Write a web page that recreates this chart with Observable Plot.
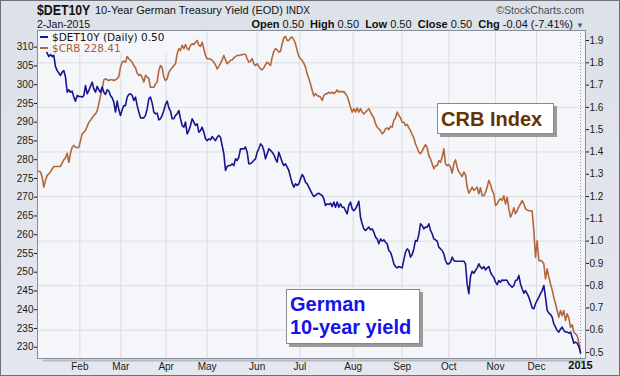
<!DOCTYPE html>
<html>
<head>
<meta charset="utf-8">
<script src="https://cdn.jsdelivr.net/npm/d3@7"></script>
<script src="https://cdn.jsdelivr.net/npm/@observablehq/plot@0.6"></script>
<style>
  body { margin: 0; background: #fff; }
  #wrap { position: relative; width: 620px; height: 376px; overflow: hidden;
          background: linear-gradient(#dde1e8, #e4e7ed);
          font-family: "Liberation Sans", Arial, sans-serif; color: #111; }
  #border { position: absolute; left: 0; top: 0; width: 620px; height: 376px; box-sizing: border-box;
            border: 1px solid #6b707a; pointer-events: none; }
  #chart { position: absolute; left: 0; top: 30px; }
  .t { position: absolute; white-space: nowrap; line-height: 1; }
  #sym { left: 37px; top: 2px; font-weight: bold; font-size: 15px; transform: scaleX(0.82); transform-origin: left top; }
  #name { left: 95px; top: 5px; font-size: 11px; }
  #exch { left: 286px; top: 6px; font-size: 10px; }
  #copy { right: 36px; top: 5px; font-size: 10.5px; color: #4a4d55; }
  #date { left: 37px; top: 19px; font-size: 10.5px; }
  #quote { right: 36px; top: 19px; font-size: 11px; }
  #quote b { font-weight: bold; }
  #quote .tri { color: #3a5da8; font-size: 8px; }
  #legend { position: absolute; left: 38px; top: 31px; width: 134px; height: 21px; background: #f5f6f9;
            font-family: "DejaVu Sans", Verdana, sans-serif; font-size: 10.5px; }
  #legend .row { position: absolute; left: 2px; white-space: nowrap; line-height: 1; }
  #legend .sw { display: inline-block; width: 8px; height: 2px; vertical-align: middle; margin-right: 4px; position: relative; top: -1px; }
  .note { position: absolute; background: #fff; border: 1px solid #8a8a8a; box-shadow: 3px 3px 0 #9a9a9a;
          font-family: "Liberation Sans", Arial, sans-serif; font-weight: bold; font-size: 20px; line-height: 23px; box-sizing: border-box; }
  #noteDE { left: 286px; top: 289px; width: 134px; height: 55px; color: #1414e8; padding: 3px 0 0 3px; }
  #noteCRB { left: 437px; top: 103px; width: 117px; height: 31px; color: #663300; padding: 4px 0 0 3px; }
</style>
</head>
<body>
<div id="wrap">
  <div id="chart"></div>
  <div class="t" id="sym">$DET10Y</div>
  <div class="t" id="name">10-Year German Treasury Yield (EOD)</div>
  <div class="t" id="exch">INDX</div>
  <div class="t" id="copy">©StockCharts.com</div>
  <div class="t" id="date">2-Jan-2015</div>
  <div class="t" id="quote"><b>Open</b> 0.50 &nbsp;<b>High</b> 0.50 &nbsp;<b>Low</b> 0.50 &nbsp;<b>Close</b> 0.50 &nbsp;<b>Chg</b> -0.04 (-7.41%) <span class="tri">▼</span></div>
  <div id="legend">
    <div class="row" style="top:1px;color:#111"><span class="sw" style="background:#16168e"></span>$DET10Y (Daily) 0.50</div>
    <div class="row" style="top:11.5px;color:#a85d35"><span class="sw" style="background:#b3673d"></span>$CRB 228.41</div>
  </div>
  <div class="note" id="noteDE">German<br>10-year yield</div>
  <div class="note" id="noteCRB">CRB Index</div>
  <div id="border"></div>
</div>
<script>
// ---- Data (uniformly spaced samples through 2014, first sample index below) ----
const firstSample = 2;

// German 10-year Treasury yield ($DET10Y), percent
const det10y = [
  1.908,1.915,1.908,1.893,1.863,1.843,1.828,1.837,1.828,1.833,1.783,1.765,1.754,1.743,1.758,1.765,1.736,1.668,1.679,1.668,
  1.673,1.646,1.628,1.653,1.649,1.649,1.646,1.653,1.698,1.661,1.676,1.694,1.713,1.683,1.668,1.694,1.679,1.668,1.691,1.668,
  1.658,1.679,1.673,1.653,1.643,1.623,1.579,1.628,1.589,1.564,1.589,1.608,1.608,1.646,1.658,1.661,1.653,1.631,1.646,1.608,
  1.579,1.553,1.553,1.553,1.564,1.594,1.638,1.646,1.619,1.579,1.571,1.574,1.544,1.549,1.564,1.586,1.613,1.628,1.598,1.583,
  1.549,1.549,
  1.564,1.571,1.586,1.549,1.519,1.511,1.534,1.481,1.496,1.519,1.549,1.534,1.519,1.526,1.489,1.496,1.511,1.489,1.459,1.451,
  1.459,1.454,1.469,1.459,1.451,1.466,1.474,1.466,1.429,1.392,1.317,1.335,1.339,1.339,1.347,1.339,1.369,1.362,1.377,1.414,
  1.414,1.414,1.422,1.399,1.347,1.347,1.354,1.362,1.369,1.399,1.414,1.436,1.429,1.407,1.369,1.392,1.414,1.407,1.399,1.389,
  1.369,1.354,1.399,1.377,1.354,1.339,1.347,1.332,1.317,1.287,1.260,1.242,1.257,1.250,1.257,1.279,1.299,1.287,1.264,1.257,
  1.242,1.227,1.212,1.200,
  1.205,1.212,1.215,1.209,1.205,1.190,1.160,1.167,1.164,1.170,1.155,1.175,1.152,1.175,1.152,1.167,1.152,1.152,1.137,1.122,
  1.160,1.175,1.145,1.137,1.145,1.160,1.179,1.107,1.078,1.055,1.048,1.055,1.063,1.051,1.055,1.040,1.018,1.010,0.988,1.010,
  1.000,1.006,0.995,0.988,0.958,0.950,0.928,0.898,0.886,0.880,0.886,0.883,0.880,0.916,0.950,0.965,0.958,0.928,0.940,0.965,
  1.003,1.000,1.030,1.078,1.070,1.055,1.063,1.063,1.078,1.048,1.033,1.010,1.006,1.000,0.973,0.965,0.958,0.943,0.913,0.898,
  0.898,0.906,0.928,0.913,
  0.910,0.910,0.910,0.910,0.910,0.910,0.898,0.808,0.764,0.841,0.865,0.856,0.868,0.880,0.898,0.883,0.876,0.886,0.871,0.880,
  0.886,0.861,0.846,0.838,0.816,0.805,0.823,0.816,0.826,0.823,0.826,0.823,0.808,0.801,0.793,0.801,0.823,0.826,0.846,0.808,
  0.786,0.766,0.778,0.764,0.749,0.726,0.701,0.696,0.719,0.734,0.749,0.764,0.778,0.801,0.749,0.689,0.677,0.671,0.659,0.629,
  0.614,0.599,0.592,0.606,0.614,0.599,0.592,0.592,0.587,0.592,0.569,0.542,0.547,0.542,0.527,0.500
];

// Thomson Reuters/CoreCommodity CRB Index ($CRB)
const crb = [
  276.9,276.7,275.3,272.7,274.5,275.8,276.2,276.7,277.6,278.2,278.2,278.2,278.2,278.2,279.1,280.0,280.5,281.7,279.3,281.7,
  283.3,283.8,283.3,283.2,283.3,285.1,286.9,287.3,287.8,288.9,290.0,290.5,291.2,291.8,292.2,293.1,294.9,297.1,298.9,301.3,
  301.6,301.3,301.1,301.3,301.3,301.1,301.3,301.6,302.2,304.7,306.0,306.3,306.0,307.5,306.9,306.5,306.0,305.1,304.5,303.1,
  302.5,302.7,302.0,300.7,302.5,302.0,301.6,299.3,299.3,299.3,300.2,300.7,303.8,305.1,304.5,302.0,301.1,301.6,303.3,304.0,
  304.5,305.1,
  305.6,308.2,309.6,309.1,310.5,309.6,310.7,309.6,309.3,310.5,310.9,310.7,311.3,311.8,310.5,310.2,311.3,309.6,307.8,306.9,
  306.9,306.8,306.5,306.0,305.3,304.2,304.9,305.7,306.6,307.8,306.6,305.6,306.0,306.5,306.6,307.2,307.5,307.8,307.8,307.9,
  308.0,308.1,308.1,306.9,306.0,306.3,306.9,305.6,305.1,305.6,304.9,304.2,304.0,304.5,305.4,306.0,305.6,305.1,307.3,308.9,
  309.6,309.3,308.7,308.9,310.9,312.5,312.9,311.8,311.8,312.5,312.7,312.0,310.9,309.1,307.5,306.9,306.5,305.7,304.7,302.9,
  301.6,300.2,298.5,297.0,
  297.6,297.1,296.9,296.7,295.8,297.1,297.6,297.6,298.0,297.7,298.0,297.6,298.0,298.6,298.0,298.3,298.0,298.2,297.6,296.9,
  295.6,294.0,292.7,293.6,292.7,293.8,292.7,293.6,292.7,292.2,292.7,293.1,293.6,292.7,291.8,291.2,289.6,288.7,288.2,287.8,
  286.9,287.3,288.2,288.5,288.0,288.9,288.7,290.5,291.2,292.7,291.8,291.2,290.0,290.0,289.1,289.4,288.5,287.8,286.7,285.8,
  284.2,283.2,282.0,281.6,282.3,283.3,284.0,283.2,281.1,280.2,278.9,277.6,278.4,278.4,279.8,279.3,280.7,282.9,278.9,278.4,
  278.7,278.0,276.4,278.9,
  280.0,278.0,276.7,276.2,275.5,276.7,276.0,272.7,271.1,271.8,272.7,271.8,272.2,272.7,270.9,272.5,270.4,270.4,271.3,272.7,
  274.5,273.4,271.8,270.9,267.8,268.2,269.1,269.6,269.1,270.4,268.2,270.0,266.9,264.7,265.7,267.2,265.6,266.4,267.5,268.2,
  269.1,268.2,266.9,266.6,266.4,266.4,266.3,261.1,254.0,258.4,253.1,253.1,252.9,252.2,248.2,250.9,248.7,246.9,245.3,243.3,
  241.6,239.8,238.0,239.8,238.4,239.8,237.1,238.9,237.8,235.3,236.0,234.0,233.6,233.1,231.3,228.41
];

// Month ticks (position in sample units) and labels
const monthLabels = ["Feb","Mar","Apr","May","Jun","Jul","Aug","Sep","Oct","Nov","Dec","2015"];
const monthAt     = [26.6, 51.2, 78.4, 103.0, 133.0, 158.6, 190.6, 220.0, 248.0, 276.0, 300.6, 327.0];

// Axis ticks
const yieldTicks = [0.5,0.6,0.7,0.8,0.9,1.0,1.1,1.2,1.3,1.4,1.5,1.6,1.7,1.8,1.9];
const yieldGrid  = [0.6,0.8,1.0,1.2,1.4,1.6,1.8];
const crbTicks   = [230,235,240,245,250,255,260,265,270,275,280,285,290,295,300,305,310];

// Alignment of the left (CRB) axis against the right (yield) axis
const crbSpan = [230, 310];
const crbSpanOnYield = [0.524, 1.870];
const yieldDomain = [0.4734, 1.9449];
const xDomain = [1.2, 330];

const crbToYield = d3.scaleLinear().domain(crbSpan).range(crbSpanOnYield);
const detSeries = det10y.map((v, i) => ({x: firstSample + i, v}));
const crbSeries = crb.map((v, i) => ({x: firstSample + i, v: crbToYield(v)}));
const labelOf = new Map(monthAt.map((d, i) => [d, monthLabels[i]]));

const chart = Plot.plot({
  width: 620, height: 346,
  marginTop: 0, marginBottom: 18, marginLeft: 37, marginRight: 35,
  style: {background: "transparent", fontFamily: "'Liberation Sans', Arial, sans-serif", fontSize: "10px", color: "#1a1a1a", overflow: "visible"},
  x: {domain: xDomain, label: null},
  y: {domain: yieldDomain, label: null},
  marks: [
    Plot.frame({fill: "#f5f6f9"}),
    Plot.ruleY(yieldGrid, {stroke: "#dadde4", strokeWidth: 1}),
    Plot.ruleX(monthAt.slice(0, -1), {stroke: "#dadde4", strokeWidth: 1}),
    Plot.ruleX(monthAt.slice(-1), {stroke: "#8e939c", strokeDasharray: "1,2"}),
    Plot.line(crbSeries, {x: "x", y: "v", stroke: "#b3673d", strokeWidth: 1.6}),
    Plot.line(detSeries, {x: "x", y: "v", stroke: "#16168e", strokeWidth: 1.6}),
    Plot.ruleY([yieldDomain[0]], {x1: 4.5, x2: xDomain[1], dy: 2, stroke: "#b4b9c2", strokeWidth: 2}),
    Plot.frame({stroke: "#878d98"}),
    Plot.axisY(yieldTicks, {anchor: "right", label: null, tickSize: 3, tickPadding: 1, tickFormat: d3.format(".1f")}),
    Plot.axisY(crbTicks.map(crbToYield), {anchor: "left", label: null, tickSize: 3, tickPadding: 1, tickFormat: v => String(Math.round(crbToYield.invert(v)))}),
    Plot.axisX(monthAt.slice(0, -1), {anchor: "bottom", label: null, tickSize: 0, tickPadding: 4, tickFormat: d => labelOf.get(d)}),
    Plot.text([monthLabels[11]], {x: monthAt[11], frameAnchor: "bottom", dy: 10, fontWeight: "bold", fontSize: 11, fill: "#111"})
  ]
});
document.getElementById("chart").appendChild(chart);
</script>
</body>
</html>
